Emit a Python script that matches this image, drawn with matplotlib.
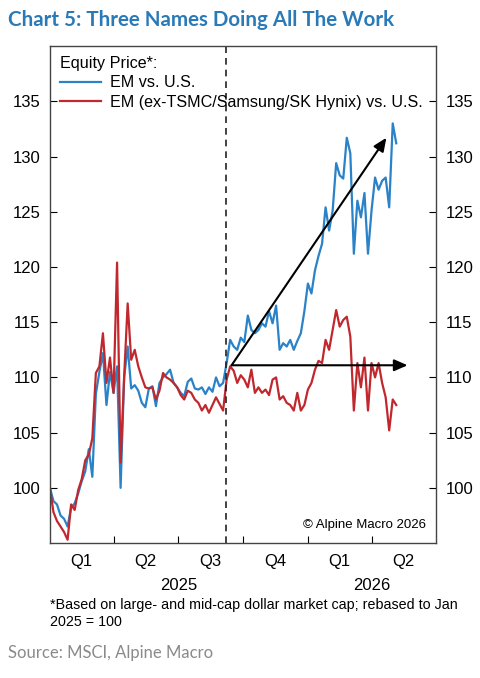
import matplotlib
matplotlib.use("Agg")
import matplotlib.pyplot as plt
import pandas as pd

# EM vs U.S. relative equity price, rebased Jan 2025 = 100 (5-day steps)
em_vs_us = [100.0, 98.8, 98.5, 97.5, 97.2, 96.5, 98.2, 98.6, 99.5, 100.6,
            101.5, 103.5, 101.0, 108.5, 110.5, 112.2, 107.5, 110.5, 108.6, 111.0,
            100.0, 110.0, 112.8, 109.0, 109.3, 108.8, 107.7, 107.3, 109.0, 109.2,
            107.4, 109.5, 110.0, 110.3, 110.7, 109.5, 109.1, 108.6, 108.3, 109.6,
            109.9, 109.0, 108.9, 109.1, 108.5, 109.1, 108.7, 110.0, 109.2, 109.5,
            111.3, 113.4, 112.8, 112.5, 113.6, 113.2, 115.6, 114.3, 114.0, 114.3,
            114.9, 114.6, 116.0, 114.9, 116.5, 112.5, 113.1, 112.8, 113.4, 112.5,
            113.3, 114.0, 116.0, 118.5, 117.6, 119.7, 121.0, 122.1, 125.4, 123.3,
            125.1, 129.4, 128.3, 128.0, 131.7, 130.3, 121.2, 126.0, 124.5, 126.7,
            121.2, 125.1, 128.1, 127.0, 127.8, 128.1, 125.4, 133.0, 131.2]

em_ex3_vs_us = [100.0, 97.8, 97.0, 96.5, 96.0, 95.3, 98.5, 98.0, 99.8, 100.8,
                102.5, 103.0, 104.5, 110.4, 111.0, 114.0, 109.5, 111.8, 108.6, 120.4,
                102.3, 110.0, 116.7, 111.6, 112.5, 111.0, 110.0, 109.1, 109.0, 109.1,
                108.0, 108.8, 110.4, 110.0, 109.8, 109.5, 109.1, 108.4, 108.0, 108.8,
                108.6, 108.0, 107.7, 107.0, 107.5, 106.8, 107.5, 108.2, 107.6, 107.0,
                109.8, 111.0, 110.6, 109.5, 110.2, 109.8, 109.1, 110.7, 108.6, 109.1,
                108.6, 108.9, 108.4, 109.8, 110.0, 108.0, 108.3, 107.7, 107.5, 107.0,
                108.6, 107.0, 107.5, 108.9, 109.5, 110.7, 111.5, 111.3, 113.4, 112.5,
                114.3, 116.1, 114.6, 115.2, 115.5, 113.7, 107.0, 111.3, 109.1, 111.8,
                107.0, 111.3, 110.0, 111.3, 109.5, 108.2, 105.2, 108.0, 107.5]

dates = pd.date_range("2025-01-01", periods=len(em_vs_us), freq="5D")

quarter_labels = ["Q1", "Q2", "Q3", "Q4", "Q1", "Q2"]
quarter_starts = pd.date_range("2025-01-01", periods=7, freq="QS")
years = ["2025", "2026"]
year_centers = [pd.Timestamp("2025-07-02"), pd.Timestamp("2026-04-01")]

split_date = pd.Timestamp("2025-09-07")
arrow_start = (pd.Timestamp("2025-09-15"), 111.1)
arrow_up_end = (pd.Timestamp("2026-04-22"), 131.7)
arrow_flat_end = (pd.Timestamp("2026-05-22"), 111.1)

BLUE = "#2a82c8"
RED = "#c0282e"

plt.rcParams["font.family"] = ["Liberation Sans", "DejaVu Sans"]

fig = plt.figure(figsize=(4.8, 6.78), dpi=100)
ax = fig.add_axes([0.104, 0.199, 0.804, 0.733])

ax.plot(dates, em_vs_us, color=BLUE, lw=1.6, label="EM vs. U.S.")
ax.plot(dates, em_ex3_vs_us, color=RED, lw=1.6,
        label="EM (ex-TSMC/Samsung/SK Hynix) vs. U.S.")

ax.axvline(split_date, color="#222222", lw=1.2, ls=(0, (4, 3)))

arrow_kw = dict(arrowstyle="-|>,head_length=0.8,head_width=0.35", color="black", lw=1.5,
                shrinkA=0, shrinkB=0)
ax.annotate("", xy=arrow_up_end, xytext=arrow_start, arrowprops=arrow_kw)
ax.annotate("", xy=arrow_flat_end, xytext=arrow_start, arrowprops=arrow_kw)

ax.set_ylim(95, 140)
ax.set_yticks([100, 105, 110, 115, 120, 125, 130, 135])
ax.set_xlim(pd.Timestamp("2025-01-01"), pd.Timestamp("2026-07-01"))

ax.set_xticks(quarter_starts[1:-1])
ax.set_xticklabels([])
mids = [quarter_starts[i] + (quarter_starts[i + 1] - quarter_starts[i]) / 2 for i in range(6)]
ax.set_xticks(mids, minor=True)
ax.set_xticklabels(quarter_labels, minor=True)
ax.tick_params(axis="x", which="minor", length=0, pad=8, labelsize=12)
ax.tick_params(axis="x", which="major", direction="in", length=5)
ax.tick_params(axis="y", direction="in", length=5, labelsize=12,
               left=True, right=True, labelleft=True, labelright=True, pad=7)

for y, c in zip(years, year_centers):
    ax.text(c, -0.086, y, transform=ax.get_xaxis_transform(), ha="center",
            va="center", fontsize=12)

for s in ax.spines.values():
    s.set_color("#444444")
    s.set_linewidth(1.0)

leg = ax.legend(loc="upper left", title="Equity Price*:", frameon=False,
                fontsize=11.6, title_fontsize=11.6, handlelength=2.6,
                borderaxespad=0.3, labelspacing=0.28, alignment="left",
                handletextpad=0.5, borderpad=0.3)

ax.text(0.975, 0.025, "© Alpine Macro 2026", transform=ax.transAxes,
        ha="right", va="bottom", fontsize=9.5)

fig.text(0.017, 0.971, "Chart 5: Three Names Doing All The Work", color="#2a7ab8",
         fontsize=14.8, fontweight="bold", family="Lato", ha="left", va="center")
fig.text(0.104, 0.118, "*Based on large- and mid-cap dollar market cap; rebased to Jan\n2025 = 100",
         fontsize=10.3, ha="left", va="top", linespacing=1.3)
fig.text(0.017, 0.037, "Source: MSCI, Alpine Macro", color="#8a8a8a",
         fontsize=12, family="Lato", ha="left", va="center")

fig.savefig("out.png", dpi=100)
